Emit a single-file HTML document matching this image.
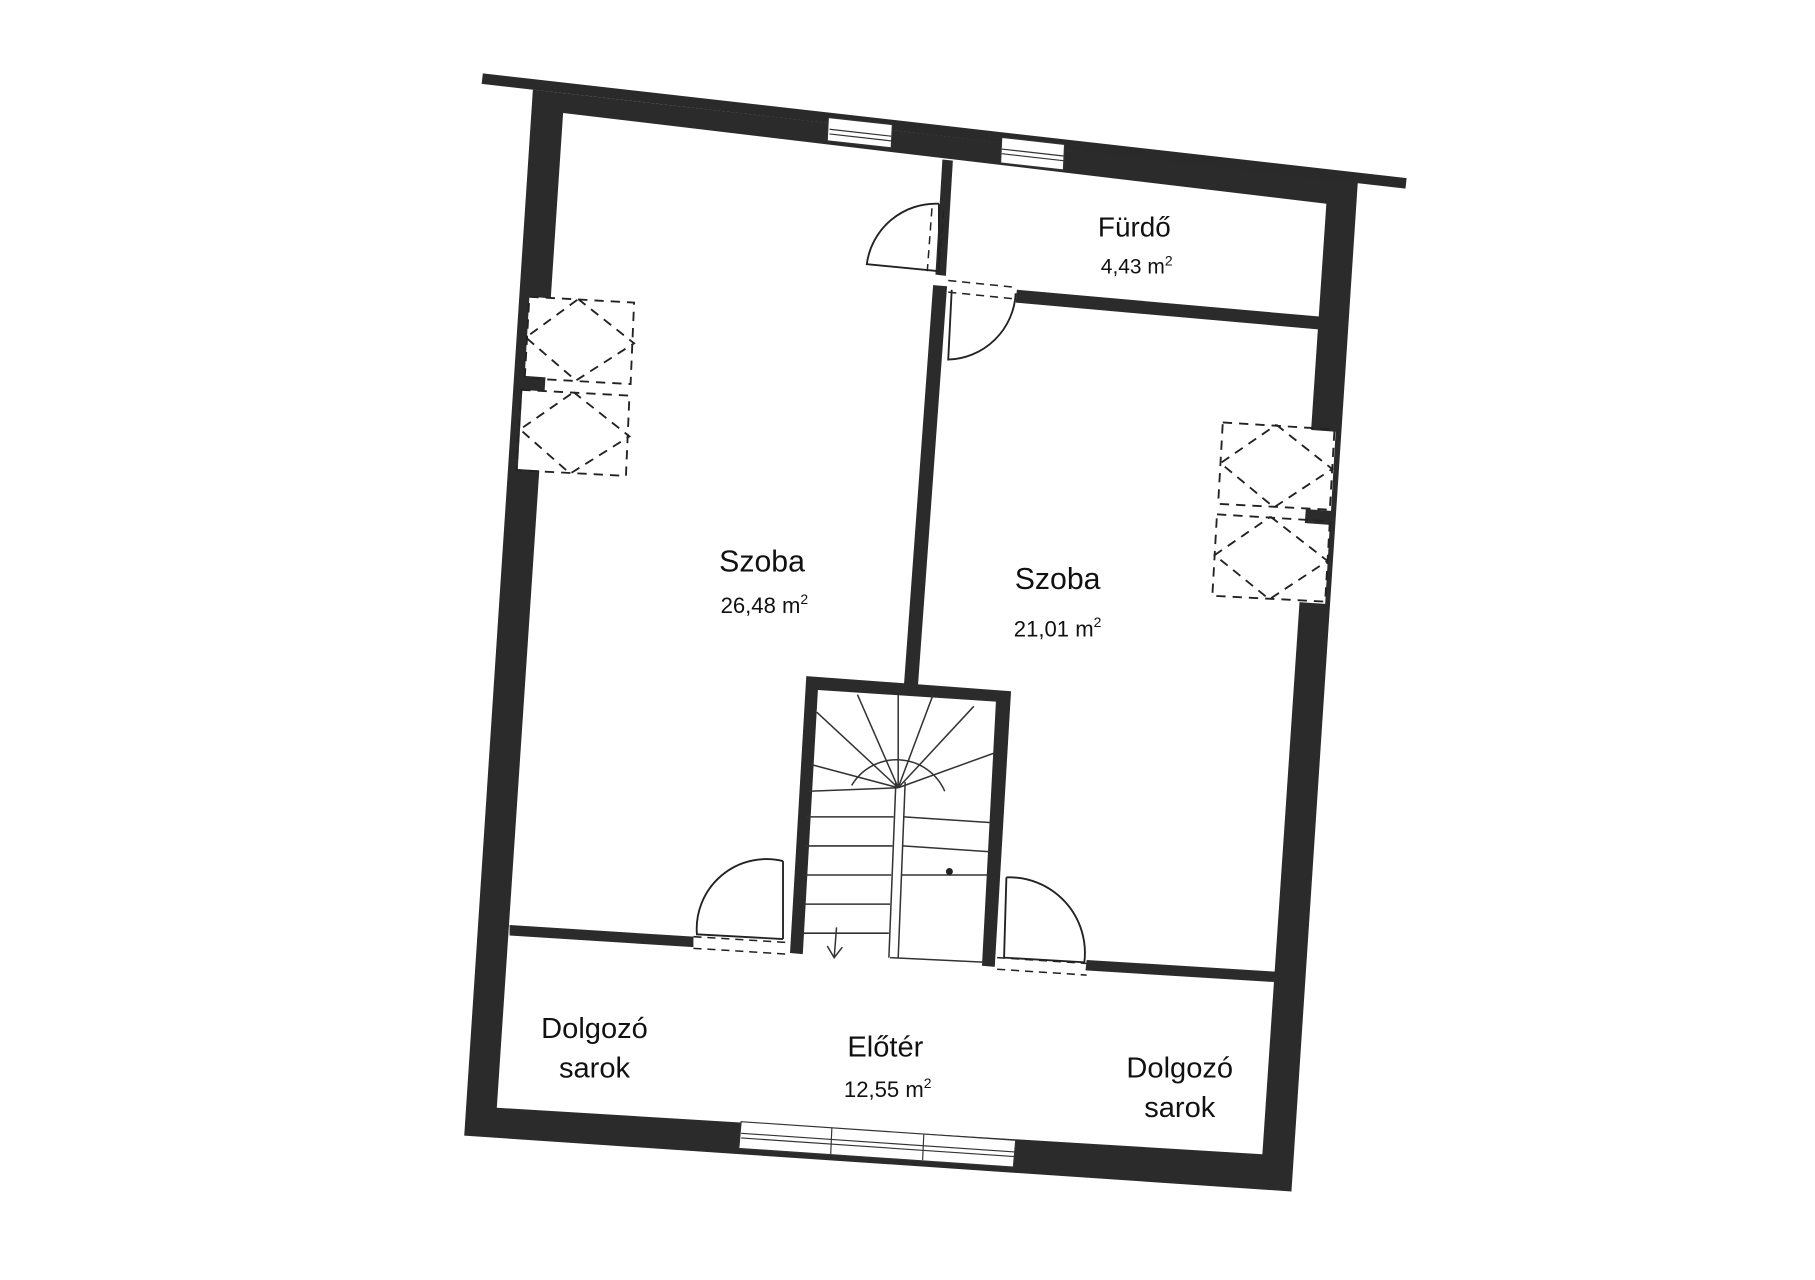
<!DOCTYPE html>
<html><head><meta charset="utf-8"><style>
html,body{margin:0;padding:0;background:#fff;}
svg{display:block;}
text{font-family:"Liberation Sans",sans-serif;fill:#111;text-anchor:middle;}
</style></head><body>
<svg width="1815" height="1280" viewBox="0 0 1560 1100" xmlns="http://www.w3.org/2000/svg">
<rect width="1560" height="1100" fill="#fff"/>
<g transform="translate(-3,-3)">
<polygon points="418,66 1212,156 1211,165 417,75" fill="#2a2a2a"/>
<path fill-rule="evenodd" fill="#2b2b2b" d="M461,80 L1170,160 L1113,1027 L402,979 Z M487,100 L1143,178 L1088,995 L430,955 Z"/>
<polygon points="715,104 770,110 769,130 714,124" fill="#fff" stroke="#333" stroke-width="1"/>
<line x1="716" y1="114" x2="769" y2="120" stroke="#333"/>
<line x1="716" y1="118" x2="769" y2="124" stroke="#333"/>
<polygon points="864,121 918,127 917,149 863,143" fill="#fff" stroke="#333" stroke-width="1"/>
<line x1="864" y1="131" x2="917" y2="137" stroke="#333"/>
<line x1="864" y1="135" x2="917" y2="141" stroke="#333"/>
<polygon points="640,967 876,983 874,1006 638,990" fill="#fff" stroke="#333" stroke-width="1"/>
<line x1="640" y1="977" x2="875" y2="993" stroke="#333"/>
<line x1="640" y1="981" x2="875" y2="997" stroke="#333"/>
<line x1="718" y1="972" x2="717" y2="995" stroke="#333"/>
<line x1="797" y1="978" x2="796" y2="1000" stroke="#333"/>
<polygon points="458,258 486,260 483,328 454,326" fill="#fff"/>
<polygon points="452,338 481,340 478,408 448,406" fill="#fff"/>
<polygon points="1123,372 1151,374 1147,442 1118,440" fill="#fff"/>
<polygon points="1118,452 1146,454 1142,522 1113,520" fill="#fff"/>
<g fill="none" stroke="#222" stroke-width="1.6" stroke-dasharray="8,6">
<polygon points="458,258 548,263 545,333 454,328"/>
<polygon points="451,338 544,343 541,412 447,407"/>
<polygon points="1054,366 1150,372 1146,441 1050,436"/>
<polygon points="1049,445 1146,451 1142,520 1045,515"/>
<polyline points="500,260 548,298 498,330 455,293 500,260"/>
<polyline points="496,340 544,378 493,410 450,372 496,340"/>
<polyline points="1100,368 1148,406 1098,439 1052,401 1100,368"/>
<polyline points="1095,447 1144,485 1094,518 1047,480 1095,447"/>
</g>
<polygon points="813,140 822,141 816,240 807,239" fill="#2b2b2b"/>
<polygon points="805,248 817,249 792,592 780,591" fill="#2b2b2b"/>
<polygon points="877,252 1137,275 1136,286 876,263" fill="#2b2b2b"/>
<polygon points="441,798 599,808 599,817 441,807" fill="#2b2b2b"/>
<polygon points="937,828 1099,838 1098,847 936,837" fill="#2b2b2b"/>
<path fill-rule="evenodd" fill="#2b2b2b" d="M696,584 L872,597 L858,834 L847,833 L859,606 L706,596 L693,823 L682,822 Z"/>
<g stroke="#333" stroke-width="1.3" fill="none">
<path d="M735,678 A45,45 0 0 1 815,683"/>
<line x1="773" y1="675" x2="767" y2="826"/>
<line x1="781" y1="675" x2="775" y2="826"/>
<line x1="696" y1="705" x2="771" y2="705"/>
<line x1="695" y1="730" x2="770" y2="730"/>
<line x1="694" y1="755" x2="769" y2="755"/>
<line x1="693" y1="780" x2="768" y2="780"/>
<line x1="692" y1="805" x2="767" y2="805"/>
<line x1="780" y1="705" x2="855" y2="710"/>
<line x1="779" y1="730" x2="854" y2="735"/>
<line x1="778" y1="755" x2="853" y2="755"/>
<line x1="768" y1="826" x2="850" y2="830"/>
<line x1="775" y1="680" x2="705" y2="615"/>
<line x1="775" y1="680" x2="740" y2="600"/>
<line x1="775" y1="680" x2="775" y2="600"/>
<line x1="775" y1="680" x2="805" y2="600"/>
<line x1="775" y1="680" x2="840" y2="610"/>
<line x1="775" y1="680" x2="858" y2="650"/>
<line x1="775" y1="680" x2="700" y2="660"/>
<line x1="775" y1="680" x2="698" y2="683"/>
<line x1="722" y1="800" x2="720" y2="826"/>
<polyline points="714,816 720,826 727,817"/>
</g>
<circle cx="819" cy="752" r="3" fill="#222"/>
<g stroke="#222" stroke-width="1.6" fill="none">
<path d="M810,178 A60,60 0 0 0 748,230 L810,236"/>
<line x1="810" y1="178" x2="810" y2="236"/>
<path d="M876,255 A60,60 0 0 1 818,312 L821,252"/>
<path d="M676,743 A60,60 0 0 0 602,806 L676,810"/>
<line x1="676" y1="743" x2="676" y2="810"/>
<path d="M868,757 A65,65 0 0 1 935,830 L866,826"/>
<line x1="868" y1="757" x2="866" y2="826"/>
</g>
<g stroke="#222" stroke-width="1.3" stroke-dasharray="7,5" fill="none">
<line x1="804" y1="182" x2="800" y2="236"/>
<line x1="814" y1="184" x2="810" y2="238"/>
<line x1="818" y1="244" x2="877" y2="250"/>
<line x1="818" y1="254" x2="877" y2="260"/>
<line x1="599" y1="808" x2="680" y2="813"/>
<line x1="599" y1="818" x2="680" y2="823"/>
<line x1="860" y1="826" x2="937" y2="831"/>
<line x1="860" y1="836" x2="937" y2="841"/>
</g>
</g>
<text x="975" y="203" font-size="24">Fürdő</text>
<text x="977" y="235" font-size="18">4,43 m<tspan font-size="12" dy="-7">2</tspan></text>
<text x="655" y="491" font-size="26">Szoba</text>
<text x="657" y="527" font-size="19">26,48 m<tspan font-size="12" dy="-8">2</tspan></text>
<text x="909" y="506" font-size="26">Szoba</text>
<text x="909" y="547" font-size="19">21,01 m<tspan font-size="12" dy="-8">2</tspan></text>
<text x="511" y="892" font-size="25">Dolgozó</text>
<text x="511" y="926" font-size="25">sarok</text>
<text x="761" y="908" font-size="25">Előtér</text>
<text x="763" y="943" font-size="19">12,55 m<tspan font-size="12" dy="-8">2</tspan></text>
<text x="1014" y="926" font-size="25">Dolgozó</text>
<text x="1014" y="960" font-size="25">sarok</text>
</svg>
</body></html>
